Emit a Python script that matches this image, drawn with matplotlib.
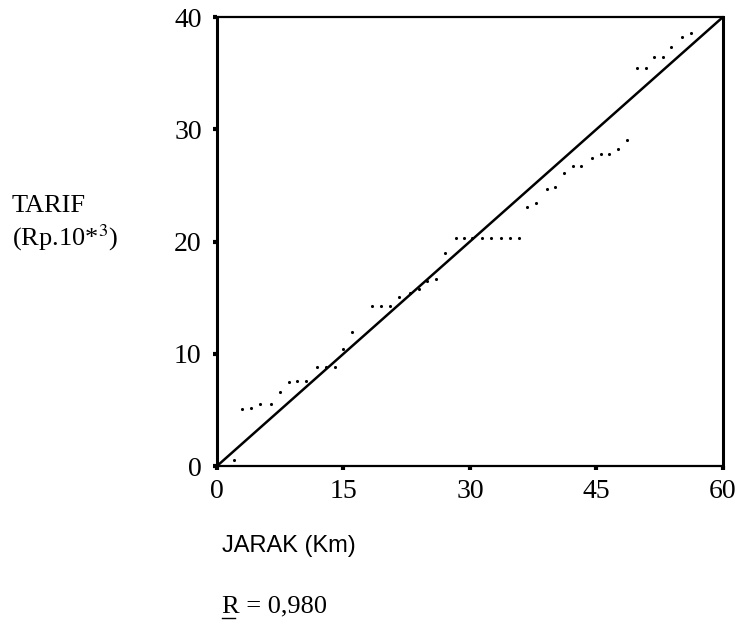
import matplotlib.pyplot as plt
from matplotlib.lines import Line2D

# Data
jarak = [2.0, 3.0, 4.0, 5.1, 6.4, 7.5, 8.5, 9.5, 10.6, 11.9, 12.9, 14.0, 15.0, 16.0,
         18.4, 19.5, 20.5, 21.6, 22.9, 23.9, 24.9, 26.0, 27.0,
         28.3, 29.3, 30.3, 31.4, 32.5, 33.7, 34.7, 35.8,
         36.8, 37.8, 39.1, 40.1, 41.1, 42.2, 43.2, 44.5, 45.5, 46.5, 47.5, 48.6,
         49.8, 50.9, 51.8, 52.9, 53.8, 55.2, 56.2]
tarif = [0.5, 5.1, 5.2, 5.5, 5.5, 6.6, 7.5, 7.6, 7.6, 8.8, 8.8, 8.8, 10.4, 11.9,
         14.25, 14.25, 14.25, 15.1, 15.4, 15.8, 16.5, 16.7, 19.0,
         20.3, 20.3, 20.3, 20.3, 20.3, 20.3, 20.3, 20.3,
         23.1, 23.4, 24.7, 24.9, 26.1, 26.7, 26.7, 27.4, 27.8, 27.8, 28.2, 29.0,
         35.5, 35.5, 36.4, 36.4, 37.3, 38.2, 38.6]

line_x = [0, 60]
line_y = [0, 40]

x_ticks = [0, 15, 30, 45, 60]
y_ticks = [0, 10, 20, 30, 40]

plt.rcParams['font.family'] = 'Liberation Serif'
plt.rcParams['mathtext.fontset'] = 'stix'

fig = plt.figure(figsize=(7.39, 6.37), dpi=100)
ax = fig.add_axes([0.2936, 0.2684, 0.6847, 0.7049])

ax.plot(line_x, line_y, color="black", linewidth=1.8)
ax.scatter(jarak, tarif, s=5, color="black", linewidths=0)

ax.set_xlim(0, 60)
ax.set_ylim(0, 40)
ax.set_xticks(x_ticks)
ax.set_yticks(y_ticks)
ax.tick_params(axis='both', direction='out', length=3, width=3, labelsize=20, color='black')
ax.tick_params(axis='x', pad=6)
ax.tick_params(axis='y', pad=8)

for side in ['left', 'right']:
    ax.spines[side].set_linewidth(2.2)
for side in ['top', 'bottom']:
    ax.spines[side].set_linewidth(1.6)

fig.text(0.016, 0.648, "TARIF\n(Rp.10*$^{3}$)", fontsize=19, ha='left', va='center', linespacing=1.25)
fig.text(0.300, 0.143, "JARAK (Km)", fontsize=17, family='Liberation Sans', ha='left', va='center')
fig.text(0.300, 0.048, "R = 0,980", fontsize=19, ha='left', va='center')
# underline under the R
fig.add_artist(Line2D([0.300, 0.318], [0.030, 0.030], color='black', linewidth=1.0))

plt.savefig("out.png", dpi=100)
